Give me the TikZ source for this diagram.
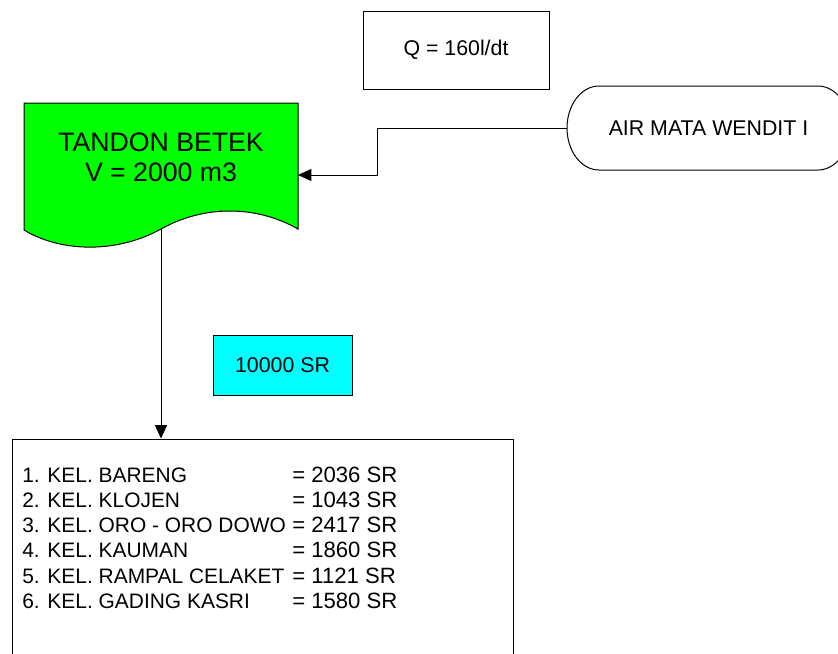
\documentclass[tikz,border=0pt]{standalone}
\usepackage{fontspec}
\setmainfont{Liberation Sans}
\usetikzlibrary{arrows.meta}
\definecolor{tgreen}{RGB}{0,255,0}
\definecolor{tcyan}{RGB}{0,255,255}
\tikzset{
  box/.style={draw=black, line width=0.75pt, inner sep=0pt, font=\fontsize{16}{19}\selectfont},
  txt/.style={inner sep=0pt, font=\fontsize{16}{19}\selectfont},
  conn/.style={draw=black, line width=0.75pt, -{Triangle[length=10pt,width=9pt]}},
}
\begin{document}
\begin{tikzpicture}[x=0.75pt,y=-0.75pt]
\clip (0,0) rectangle (838,653);
\fill[white] (0,0) rectangle (838,653);

% Q box
\node[box, minimum width=139.5pt, minimum height=58.5pt] (q) at (456,50) {Q = 160l/dt};

% terminal
\draw[line width=0.75pt] (599,86) arc[start angle=90,end angle=270,x radius=24pt,y radius=31.5pt]
  -- (818,170) arc[start angle=-90,end angle=90,x radius=24pt,y radius=31.5pt] -- cycle;
\node[txt, minimum width=211.5pt, minimum height=63pt] (air) at (708.5,128) {AIR MATA WENDIT I};

% document shape
\draw[line width=0.75pt, fill=tgreen] (24,103) -- (298,103) -- (298,229)
  .. controls (256,205) and (204,205) .. (161,229)
  .. controls (118,253) and (62,253) .. (24,230) -- cycle;
\node[inner sep=0pt, align=center, font=\fontsize{20}{22.5}\selectfont] (tandon) at (161,157) {TANDON BETEK\\V = 2000 m3};
\coordinate (tin) at (298,175);
\coordinate (tout) at (161,229);

% cyan box
\node[box, fill=tcyan, minimum width=104.25pt, minimum height=45pt] (sr) at (282.5,365) {10000 SR};

% list box
\node[draw=black, line width=0.75pt, minimum width=375.75pt, minimum height=180.75pt, inner sep=0pt] (list) at (262.5,559.5) {};
\foreach \i/\a/\b in {0/1. KEL. BARENG/= 2036 SR, 1/2. KEL. KLOJEN/= 1043 SR, 2/3. KEL. ORO - ORO DOWO/= 2417 SR, 3/4. KEL. KAUMAN/= 1860 SR, 4/5. KEL. RAMPAL CELAKET/= 1121 SR, 5/6. KEL. GADING KASRI/= 1580 SR}{
  \node[txt, anchor=base west, font=\fontsize{15.7}{19}\selectfont] (l\i) at (22,482+25.3*\i) {\a};
  \node[txt, anchor=base west, font=\fontsize{16.6}{19}\selectfont] (r\i) at (292,482+25.3*\i) {\b};
}

% connectors
\draw[conn] (air.west) -- (377,128) |- (tin);
\draw[conn] (tout) -- (list.north -| tout);
\end{tikzpicture}
\end{document}
